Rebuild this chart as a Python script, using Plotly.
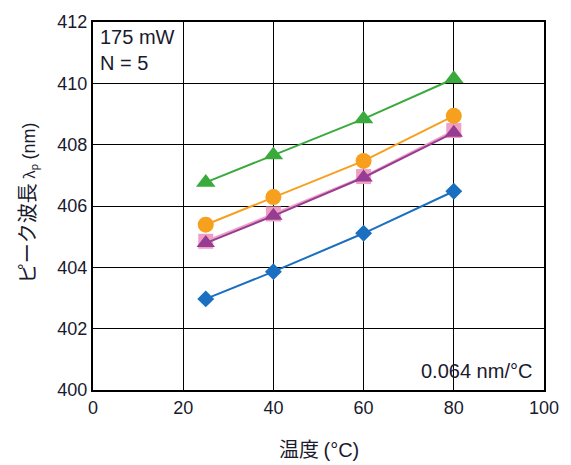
import plotly.graph_objects as go

temps = [25, 40, 60, 80]
green_tri = [406.77, 407.66, 408.84, 410.15]
orange_circ = [405.39, 406.29, 407.47, 408.94]
pink_sq = [404.85, 405.74, 406.96, 408.46]
purple_tri = [404.79, 405.68, 406.93, 408.39]
blue_dia = [402.97, 403.86, 405.11, 406.48]

x_ticks = [0, 20, 40, 60, 80, 100]
y_ticks = [400, 402, 404, 406, 408, 410, 412]

fig = go.Figure()
series = [
    (blue_dia, "#1a6fc0", "diamond", 13),
    (pink_sq, "#ef9fc4", "square", 15),
    (purple_tri, "#963c93", "triangle-up", 16),
    (orange_circ, "#f6a01e", "circle", 16),
    (green_tri, "#3aaa3c", "triangle-up", 17),
]
for ys, col, sym, sz in series:
    fig.add_trace(go.Scatter(x=temps, y=ys, mode="lines+markers",
                             line=dict(color=col, width=2),
                             marker=dict(color=col, symbol=sym, size=sz),
                             showlegend=False))

cjk = "Noto Sans CJK JP, Liberation Sans"
fig.update_layout(
    width=571, height=465,
    margin=dict(l=93, r=26, t=14, b=75),
    paper_bgcolor="white", plot_bgcolor="white",
    font=dict(family="Liberation Sans, Arial, sans-serif", size=18, color="#1a1a2e"),
    xaxis=dict(range=[0, 100], tickvals=x_ticks, showgrid=True, gridcolor="black", gridwidth=1,
               showline=True, linecolor="black", linewidth=2, mirror=True, zeroline=False,
               ticks=""),
    yaxis=dict(range=[400, 412], tickvals=y_ticks, showgrid=True, gridcolor="black", gridwidth=1,
               showline=True, linecolor="black", linewidth=2, mirror=True, zeroline=False,
               ticks=""),
    annotations=[
        dict(x=0.5, y=-0.16, xref="paper", yref="paper", xanchor="center", yanchor="middle",
             text="温度 <span style='font-family:Liberation Sans'>(°C)</span>",
             showarrow=False, font=dict(family=cjk, size=20)),
        dict(x=-0.148, y=0.508, xref="paper", yref="paper", xanchor="center", yanchor="middle",
             text="ピーク波長 <span style='font-size:15px'>λ<sub>p</sub></span> "
                  "<span style='font-family:Liberation Sans;font-size:18px'>(nm)</span>",
             showarrow=False, textangle=-90,
             font=dict(family=cjk, size=20)),
        dict(x=0.012, y=0.995, xref="paper", yref="paper", xanchor="left", yanchor="top",
             text="175 mW<br>N = 5", showarrow=False, align="left",
             font=dict(size=20)),
        dict(x=0.977, y=0.015, xref="paper", yref="paper", xanchor="right", yanchor="bottom",
             text="0.064 nm/°C", showarrow=False, font=dict(size=20)),
    ],
)

fig.write_html("out.html")
